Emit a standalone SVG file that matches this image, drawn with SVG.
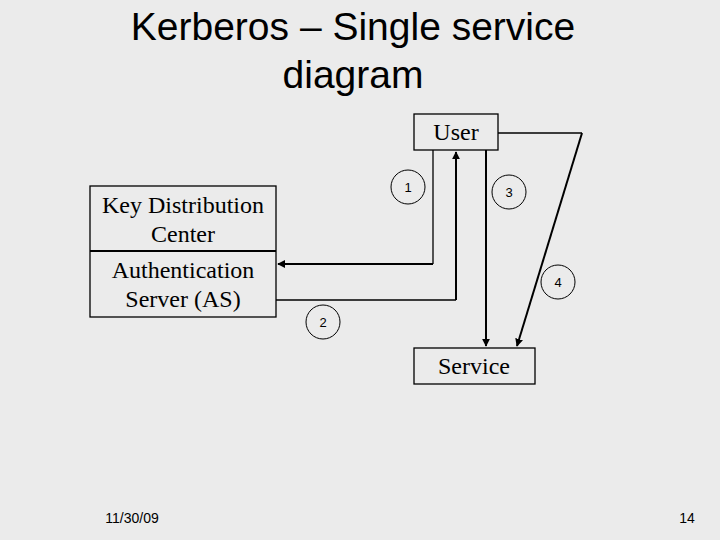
<svg xmlns="http://www.w3.org/2000/svg" width="720" height="540" viewBox="0 0 720 540">
<style>
.box{fill:none;stroke:#000;stroke-width:1.3}
.t{font-family:"Liberation Serif",serif;font-size:24px;fill:#000;text-anchor:middle}
.n{font-family:"Liberation Sans",sans-serif;font-size:13px;fill:#000;text-anchor:middle}
.c{fill:none;stroke:#000;stroke-width:1}
.l{fill:none;stroke:#000;stroke-width:1.3}
.a{fill:none;stroke:#000;stroke-width:2;marker-end:url(#ah)}
</style>
<defs><marker id="ah" viewBox="0 0 10 10" refX="9" refY="5" markerWidth="4" markerHeight="4" orient="auto"><path d="M0,0L10,5L0,10z" fill="#000"/></marker></defs>
<rect width="720" height="540" fill="#ebebeb"/>
<text x="353" y="40" font-family="Liberation Sans,sans-serif" font-size="39" text-anchor="middle">Kerberos – Single service</text>
<text x="353" y="88" font-family="Liberation Sans,sans-serif" font-size="39" text-anchor="middle">diagram</text>
<g id="user"><rect class="box" x="414" y="114" width="84" height="36"/><text class="t" x="456" y="140">User</text></g>
<g id="service"><rect class="box" x="414" y="348" width="121" height="36"/><text class="t" x="474" y="374">Service</text></g>
<g id="kdc"><rect class="box" x="90" y="186" width="186" height="131"/><line x1="90" y1="251" x2="276" y2="251" stroke="#000" stroke-width="2"/>
<text class="t" x="183" y="213">Key Distribution</text><text class="t" x="183" y="242">Center</text>
<text class="t" x="183" y="278">Authentication</text><text class="t" x="183" y="307">Server (AS)</text></g>
<g id="connectors">
<polyline class="l" points="433,150 433,264"/><polyline class="a" points="433,264 278,264"/>
<polyline class="l" points="276,300 456,300"/><polyline class="a" points="456,300 456,152"/>
<polyline class="a" points="486,150 486,346"/>
<polyline class="l" points="498,133 582,133"/><polyline class="a" points="582,133 517,346"/>
</g>
<g id="labels">
<circle class="c" cx="408" cy="187" r="17"/><text class="n" x="408" y="192">1</text>
<circle class="c" cx="509" cy="192" r="17"/><text class="n" x="509" y="197">3</text>
<circle class="c" cx="558" cy="282" r="17"/><text class="n" x="558" y="287">4</text>
<circle class="c" cx="323" cy="322" r="17"/><text class="n" x="323" y="327">2</text>
</g>
<text x="132" y="523" font-family="Liberation Sans,sans-serif" font-size="14" text-anchor="middle">11/30/09</text>
<text x="687" y="523" font-family="Liberation Sans,sans-serif" font-size="14" text-anchor="middle">14</text>
</svg>
